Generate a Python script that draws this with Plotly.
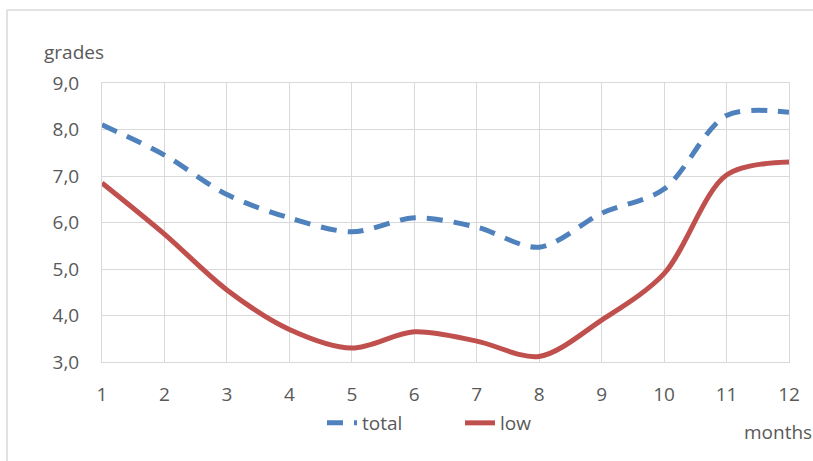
import plotly.graph_objects as go

# Monthly grade averages
months = [1, 2, 3, 4, 5, 6, 7, 8, 9, 10, 11, 12]
total = [8.1, 7.45, 6.6, 6.1, 5.8, 6.1, 5.9, 5.47, 6.2, 6.72, 8.3, 8.37]
low = [6.85, 5.75, 4.55, 3.7, 3.3, 3.65, 3.45, 3.12, 3.9, 4.9, 7.02, 7.3]

y_ticks = [3, 4, 5, 6, 7, 8, 9]

BLUE = "#4F81BD"
RED = "#C0504D"
TEXT = "#595959"
GRID = "#d9d9d9"
FONT = "Open Sans"
FS = 19

W, H = 813, 461
L, R, T, B = 102, 24, 83, 99
pw, ph = W - L - R, H - T - B


def px_x(p):
    return (p - L) / pw


def px_y(p):
    return (H - B - p) / ph


fig = go.Figure()
fig.add_trace(go.Scatter(
    x=months, y=total, name="total", mode="lines",
    line=dict(color=BLUE, width=5, dash="16px,11px", shape="spline", smoothing=0.9),
))
fig.add_trace(go.Scatter(
    x=months, y=low, name="low", mode="lines",
    line=dict(color=RED, width=5, shape="spline", smoothing=0.9),
))

fig.update_layout(
    width=W, height=H,
    margin=dict(l=L, r=R, t=T, b=B),
    paper_bgcolor="white", plot_bgcolor="white",
    separators=", ",
    font=dict(family=FONT, size=FS, color=TEXT),
    showlegend=True,
    legend=dict(
        orientation="h", x=px_x(322), xanchor="left",
        y=px_y(423), yanchor="middle",
        entrywidth=93, entrywidthmode="pixels",
        font=dict(family=FONT, size=FS, color=TEXT),
        bgcolor="rgba(0,0,0,0)",
    ),
    xaxis=dict(
        range=[1, 12], tickvals=months, showgrid=True, gridcolor=GRID,
        gridwidth=1, zeroline=False, showline=True, linecolor=GRID,
        mirror=True, ticks="", ticklabelstandoff=15,
        tickfont=dict(family=FONT, size=FS, color=TEXT),
    ),
    yaxis=dict(
        range=[3, 9], tickvals=y_ticks, tickformat=".1f", showgrid=True,
        gridcolor=GRID, gridwidth=1, zeroline=False, showline=True,
        linecolor=GRID, mirror=True, ticks="", ticklabelstandoff=18,
        tickfont=dict(family=FONT, size=FS, color=TEXT),
    ),
    annotations=[
        dict(text="grades", xref="paper", yref="paper", x=px_x(42), y=px_y(52),
             xanchor="left", yanchor="middle", showarrow=False,
             font=dict(family=FONT, size=FS, color=TEXT)),
        dict(text="months", xref="paper", yref="paper", x=px_x(742), y=px_y(432),
             xanchor="left", yanchor="middle", showarrow=False,
             font=dict(family=FONT, size=FS, color=TEXT)),
    ],
    shapes=[
        # chart frame
        dict(type="line", xref="paper", yref="paper", x0=px_x(7), x1=px_x(830),
             y0=px_y(10), y1=px_y(10), line=dict(color=GRID, width=1.5)),
        dict(type="line", xref="paper", yref="paper", x0=px_x(7), x1=px_x(7),
             y0=px_y(10), y1=px_y(480), line=dict(color=GRID, width=1.5)),
    ],
)

fig.write_html("out.html")
